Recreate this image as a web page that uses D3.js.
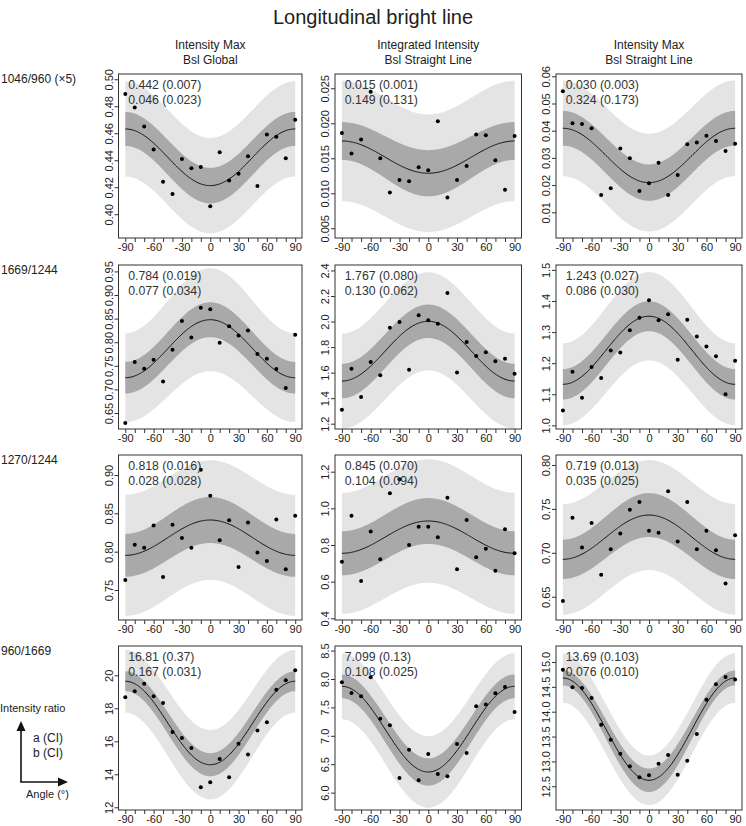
<!DOCTYPE html>
<html><head><meta charset="utf-8">
<script src="https://cdn.jsdelivr.net/npm/d3@7"></script>
<style>body{margin:0;background:#fff;} svg{display:block;font-family:"Liberation Sans",Arial,sans-serif;}</style>
</head><body><svg id="c" width="746" height="826"></svg>
<script>
const title = "Longitudinal bright line";
const colTitles = [["Intensity Max","Bsl Global"],["Integrated Intensity","Bsl Straight Line"],["Intensity Max","Bsl Straight Line"]];
const rowLabels = ["1046/960 (\u00d75)","1669/1244","1270/1244","960/1669"];
const angles = [-90,-80,-70,-60,-50,-40,-30,-20,-10,0,10,20,30,40,50,60,70,80,90];
const xTickLabels = ["-90","-60","-30","0","30","60","90"];
const xMinorTicks = [-90,-80,-70,-60,-50,-40,-30,-20,-10,0,10,20,30,40,50,60,70,80,90];

const paramA = ["0.442 (0.007)","0.015 (0.001)","0.030 (0.003)","0.784 (0.019)","1.767 (0.080)","1.243 (0.027)","0.818 (0.016)","0.845 (0.070)","0.719 (0.013)","16.81 (0.37)","7.099 (0.13)","13.69 (0.103)"];
const paramB = ["0.046 (0.023)","0.149 (0.131)","0.324 (0.173)","0.077 (0.034)","0.130 (0.062)","0.086 (0.030)","0.028 (0.028)","0.104 (0.094)","0.035 (0.025)","0.167 (0.031)","0.108 (0.025)","0.076 (0.010)"];

const yTickLabels = [
  ["0.40","0.42","0.44","0.46","0.48","0.50"],
  ["0.005","0.010","0.015","0.020","0.025"],
  ["0.01","0.02","0.03","0.04","0.05","0.06"],
  ["0.65","0.70","0.75","0.80","0.85","0.90","0.95"],
  ["1.2","1.4","1.6","1.8","2.0","2.2","2.4"],
  ["1.0","1.1","1.2","1.3","1.4","1.5"],
  ["0.75","0.80","0.85","0.90"],
  ["0.4","0.6","0.8","1.0","1.2"],
  ["0.65","0.70","0.75","0.80"],
  ["12","14","16","18","20"],
  ["6.0","6.5","7.0","7.5","8.0","8.5"],
  ["12.5","13.0","13.5","14.0","14.5","15.0"]
];
const yMin = [0.3824,0.00361,0.00055,0.6161,1.1585,0.9882,0.7109,0.3907,0.6235,11.836,5.694,12.022];
const yMax = [0.5039,0.02704,0.06085,0.9636,2.4428,1.5158,0.9261,1.2911,0.8114,21.776,8.581,15.322];

const r1c1 = [0.489,0.479,0.465,0.448,0.424,0.415,0.441,0.434,0.435,0.406,0.446,0.425,0.430,0.443,0.421,0.459,0.4575,0.4415,0.470];
const r1c2 = [0.0186,0.0157,0.0177,0.0245,0.0150,0.0101,0.0119,0.0117,0.0137,0.0133,0.0203,0.0094,0.0119,0.0139,0.0184,0.0183,0.0147,0.0105,0.0182];
const r1c3 = [0.0545,0.0427,0.0425,0.0409,0.0164,0.0188,0.0335,0.0299,0.0178,0.0207,0.0282,0.0164,0.0237,0.0350,0.0357,0.0381,0.0362,0.0325,0.0352];
const r2c1 = [0.629,0.758,0.744,0.763,0.717,0.784,0.845,0.810,0.873,0.870,0.799,0.834,0.814,0.825,0.775,0.765,0.743,0.703,0.816];
const r2c2 = [1.310,1.631,1.409,1.683,1.579,1.952,1.996,1.623,2.049,2.010,1.983,2.223,1.600,1.840,1.730,1.760,1.690,1.709,1.592];
const r2c3 = [1.048,1.172,1.089,1.188,1.152,1.241,1.234,1.306,1.346,1.402,1.338,1.357,1.211,1.340,1.286,1.254,1.222,1.100,1.208];
const r3c1 = [0.763,0.809,0.805,0.834,0.767,0.835,0.818,0.805,0.907,0.873,0.815,0.841,0.780,0.838,0.799,0.788,0.842,0.777,0.847];
const r3c2 = [0.709,0.960,0.604,0.873,0.722,1.082,1.159,0.800,0.900,0.900,0.842,1.058,0.667,0.936,0.733,0.780,0.660,0.886,0.755];
const r3c3 = [0.645,0.740,0.706,0.734,0.675,0.704,0.722,0.749,0.758,0.725,0.723,0.770,0.713,0.758,0.704,0.725,0.703,0.665,0.720];
const r4c1 = [18.67,19.03,19.49,18.73,18.32,16.56,16.20,15.59,13.21,13.52,14.93,13.82,15.85,15.20,16.65,17.15,19.13,19.70,20.30];
const r4c2 = [7.942,7.754,7.695,8.030,7.301,7.185,6.257,6.756,6.216,6.680,6.327,6.287,6.856,6.697,7.519,7.550,7.750,7.859,7.419];
const r4c3 = [14.845,14.49,14.477,14.276,13.738,13.437,13.155,12.90,12.68,12.72,12.954,13.13,12.73,13.014,13.551,14.24,14.55,14.70,14.65];
const panelPoints = [r1c1,r1c2,r1c3,r2c1,r2c2,r2c3,r3c1,r3c2,r3c3,r4c1,r4c2,r4c3];

const fitAt90 = [0.4632,0.01747,0.0409,0.7248,1.534,1.132,0.7952,0.7547,0.6926,19.64,7.871,14.678];
const fitAt0  = [0.4212,0.01286,0.0209,0.8477,2.002,1.351,0.8413,0.931,0.743,14.58,6.363,12.62];
const ciHalf90 = [0.0126,0.0027,0.0064,0.0335,0.135,0.049,0.028,0.120,0.0224,0.60,0.21,0.15];
const ciHalf0  = [0.0132,0.0033,0.0067,0.037,0.131,0.048,0.030,0.125,0.025,0.70,0.24,0.235];
const piHalf90 = [0.0353,0.0086,0.0176,0.094,0.372,0.132,0.079,0.330,0.063,1.90,0.58,0.50];
const piHalf0  = [0.0353,0.0084,0.0180,0.109,0.384,0.142,0.078,0.337,0.0626,2.10,0.63,0.50];

const colRange = [[118.5,302],[335,521.5],[556,742]];
const rowRange = [[74,238],[265,429],[455,620],[646,810]];
const FONT = '"Liberation Sans",Arial,sans-serif';
const svg = d3.select("#c");

svg.append("text").attr("x",373).attr("y",24).attr("text-anchor","middle")
  .attr("font-size",20).attr("fill","#222").text(title);

colTitles.forEach((t,c)=>{
  const cx = (colRange[c][0]+colRange[c][1])/2;
  t.forEach((line,i)=>{
    svg.append("text").attr("x",cx).attr("y",49+i*15).attr("text-anchor","middle")
      .attr("font-size",12).attr("fill","#222").text(line);
  });
});

rowLabels.forEach((t,r)=>{
  svg.append("text").attr("x",1).attr("y",rowRange[r][0]+9).attr("font-size",12).attr("fill","#222").text(t);
});

const fineAngles = d3.range(-90, 90.5, 1);

for(let r=0;r<4;r++){
  for(let c=0;c<3;c++){
    const k = r*3+c;
    const [x0,x1] = colRange[c];
    const [yt,yb] = rowRange[r];
    const x = d3.scaleLinear().domain([-97.2,97.2]).range([x0,x1]);
    const y = d3.scaleLinear().domain([yMin[k],yMax[k]]).range([yb,yt]);
    const g = svg.append("g");
    const mid = (fitAt90[k]+fitAt0[k])/2, amp = (fitAt0[k]-fitAt90[k])/2;
    const fit = a => mid + amp*Math.cos(2*a*Math.PI/180);
    const hw = (a,h0,h90) => { const cs = Math.cos(a*Math.PI/180)**2; return h0*cs + h90*(1-cs); };
    const band = (h0,h90) => d3.area().x(a=>x(a)).y0(a=>y(fit(a)-hw(a,h0,h90))).y1(a=>y(fit(a)+hw(a,h0,h90)));
    const clipId = "clip"+k;
    svg.append("clipPath").attr("id",clipId).append("rect").attr("x",x0).attr("y",yt).attr("width",x1-x0).attr("height",yb-yt);
    const inner = g.append("g").attr("clip-path",`url(#${clipId})`);
    inner.append("path").datum(fineAngles).attr("d",band(piHalf0[k],piHalf90[k])).attr("fill","#e4e4e4");
    inner.append("path").datum(fineAngles).attr("d",band(ciHalf0[k],ciHalf90[k])).attr("fill","#a9a9a9");
    inner.append("path").datum(fineAngles).attr("d",d3.line().x(a=>x(a)).y(a=>y(fit(a)))).attr("fill","none").attr("stroke","#111").attr("stroke-width",1);
    inner.selectAll("circle").data(panelPoints[k]).join("circle")
      .attr("cx",(v,i)=>x(angles[i])).attr("cy",v=>y(v)).attr("r",2).attr("fill","#000");
    g.append("text").attr("x",x(-87)).attr("y",yt+15).attr("font-size",12.3).attr("fill","#333").text(paramA[k]);
    g.append("text").attr("x",x(-87)).attr("y",yt+30).attr("font-size",12.3).attr("fill","#333").text(paramB[k]);
    g.append("rect").attr("x",x0).attr("y",yt).attr("width",x1-x0).attr("height",yb-yt)
      .attr("fill","none").attr("stroke","#333").attr("stroke-width",1);
    const xa = d3.axisBottom(x).tickValues(xMinorTicks).tickSize(4).tickFormat(d=> xTickLabels.includes(String(d)) ? String(d) : "");
    const xg = g.append("g").attr("transform",`translate(0,${yb})`).call(xa);
    xg.select(".domain").remove();
    xg.selectAll("line").attr("stroke","#333");
    xg.selectAll("text").attr("font-size",11).attr("font-family",FONT).attr("fill","#222").attr("dy",null).attr("y",13);
    const ticks = yTickLabels[k].map(Number);
    const ya = d3.axisLeft(y).tickValues(ticks).tickSize(4).tickFormat((d,i)=>yTickLabels[k][i]);
    const yg = g.append("g").attr("transform",`translate(${x0},0)`).call(ya);
    yg.select(".domain").remove();
    yg.selectAll("line").attr("stroke","#333");
    yg.selectAll("text").attr("font-size",11).attr("font-family",FONT).attr("fill","#222")
      .attr("x",null).attr("dy",null).attr("text-anchor","middle")
      .attr("transform","translate(-6,0) rotate(-90)");
  }
}

const lg = svg.append("g");
lg.append("text").attr("x",0).attr("y",712).attr("font-size",11).attr("fill","#222").text("Intensity ratio");
lg.append("text").attr("x",33).attr("y",742).attr("font-size",12).attr("fill","#222").text("a (CI)");
lg.append("text").attr("x",33).attr("y",757).attr("font-size",12).attr("fill","#222").text("b (CI)");
lg.append("text").attr("x",26).attr("y",798).attr("font-size",11).attr("fill","#222").text("Angle (\u00b0)");
lg.append("line").attr("x1",21).attr("y1",782).attr("x2",21).attr("y2",730).attr("stroke","#111").attr("stroke-width",1.6);
lg.append("line").attr("x1",20.2).attr("y1",782).attr("x2",60).attr("y2",782).attr("stroke","#111").attr("stroke-width",1.6);
lg.append("path").attr("d","M21,721 L16.5,731 L25.5,731 Z").attr("fill","#111");
lg.append("path").attr("d","M68,782 L58,777.5 L58,786.5 Z").attr("fill","#111");
</script></body></html>
